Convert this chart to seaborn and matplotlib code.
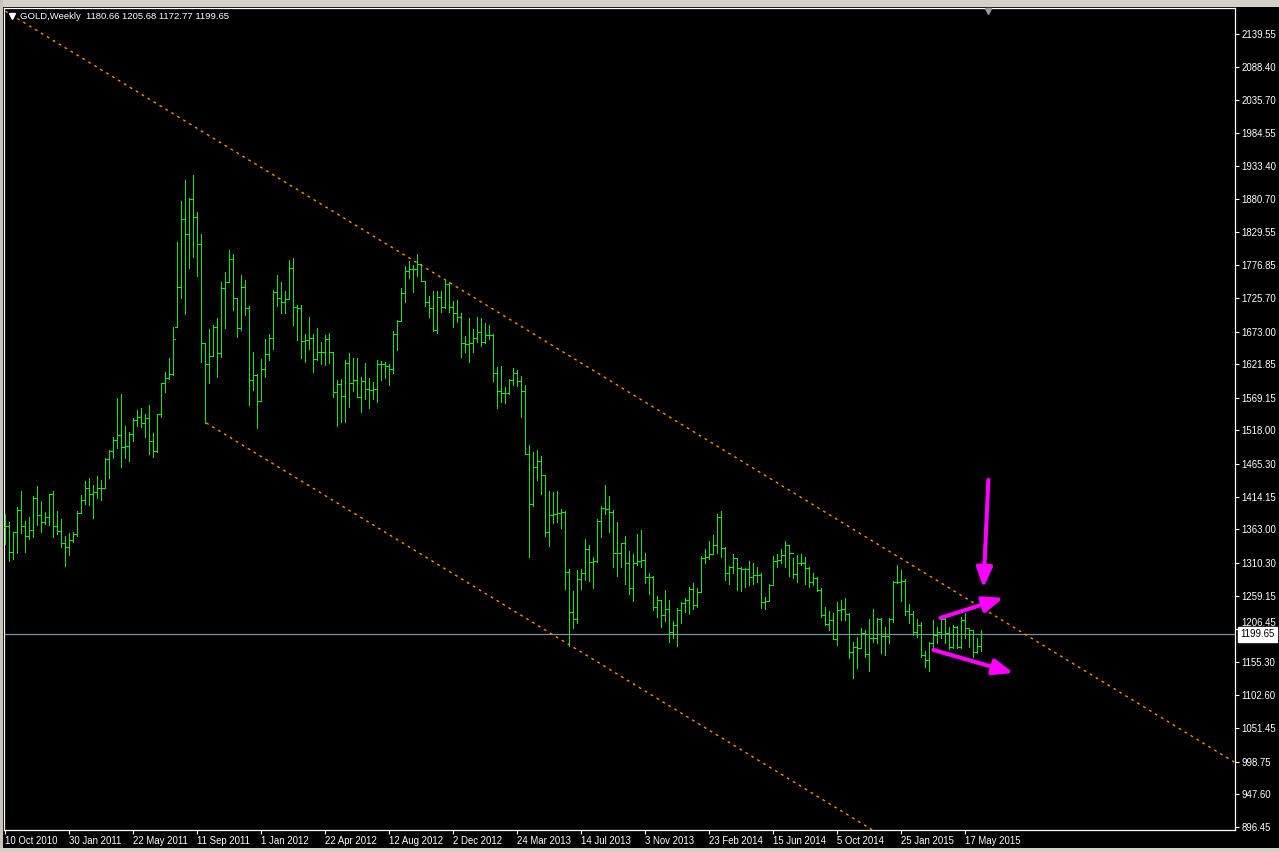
import matplotlib
matplotlib.use("Agg")
import matplotlib.pyplot as plt
from matplotlib.lines import Line2D
from matplotlib.patches import Rectangle
import numpy as np
import pandas as pd
import seaborn as sns

# ---------------- data (weekly GOLD bars, 10 Oct 2010 .. 21 Jun 2015) ----------------
highs = [1387, 1375, 1359.5, 1398.7, 1423.3, 1376.3, 1382.5, 1415.5, 1431.1, 1407.6,
         1390.9, 1418.6, 1423.3, 1392.5, 1379.4, 1353.3, 1357.5, 1359.5, 1392, 1417,
         1439, 1444.2, 1432.7, 1446.8, 1440.5, 1474.5, 1487.6, 1508.5, 1568.6, 1575.3,
         1525.2, 1516.3, 1537.2, 1550.3, 1554, 1543.5, 1558.1, 1513.7, 1543.5, 1592,
         1609.3, 1631.2, 1679.8, 1813, 1877, 1910.8, 1882, 1918.6, 1860, 1826,
         1654.8, 1677.2, 1683.5, 1694, 1751.4, 1766, 1801, 1794.3, 1726.3, 1761.9,
         1754, 1713.3, 1640.7, 1606.2, 1630.2, 1661.6, 1669.4, 1738.4, 1761.9, 1750.4,
         1736.8, 1785.9, 1788, 1714.9, 1714.9, 1668.9, 1696, 1668.9, 1678.3, 1656.3,
         1667.8, 1670.4, 1640.7, 1597.3, 1598.8, 1628.6, 1639.1, 1632.3, 1631.3, 1602.5,
         1623.4, 1599.9, 1594.7, 1628.6, 1627.1, 1625, 1621.8, 1674.1, 1690.8, 1742,
         1776.5, 1783.8, 1777.5, 1794.3, 1778.6, 1752.5, 1729.5, 1736.8, 1736.8, 1736.8,
         1754.6, 1751.4, 1721.1, 1722.7, 1701.8, 1666.8, 1695, 1677.2, 1696.6, 1695,
         1686.1, 1683.5, 1668.9, 1618.2, 1619.3, 1586.9, 1598.9, 1615.6, 1613, 1603.6,
         1589.5, 1495.5, 1485, 1487.6, 1478.2, 1448.4, 1423.9, 1422.3, 1423.4, 1395.1,
         1392, 1300.6, 1266.6, 1299.5, 1300.6, 1348.1, 1338.7, 1320.4, 1379.5, 1400.4,
         1432.2, 1415.5, 1393.6, 1374.8, 1342.4, 1352.8, 1329.3, 1324.6, 1356, 1362.2,
         1326.7, 1294.3, 1290.1, 1258.8, 1251.5, 1268.2, 1252.5, 1219.6, 1240.5, 1248.8,
         1255.6, 1272.4, 1278.6, 1270.8, 1321, 1332.4, 1345, 1354.4, 1387.3, 1392.5,
         1335, 1305.8, 1324.6, 1316.2, 1304.7, 1303, 1314, 1310, 1304.7, 1295.2,
         1256.6, 1277.5, 1321.4, 1324, 1332.3, 1344.9, 1338.6, 1317.7, 1323, 1324,
         1319.3, 1304.7, 1295.2, 1289, 1270.7, 1240.9, 1235.7, 1232.5, 1249.8, 1252.4,
         1255, 1232, 1187.1, 1194.9, 1208, 1205.4, 1222.1, 1237.8, 1223.7, 1224,
         1209.6, 1223.7, 1282.2, 1307.3, 1299.4, 1284.8, 1246.1, 1235.7, 1222.1, 1218,
         1172.5, 1187.1, 1221.1, 1209.6, 1223.7, 1224, 1209.6, 1213.2, 1211, 1226.3,
         1231.5, 1208, 1205.4, 1192.3, 1205.68]

lows = [1340, 1314, 1316.7, 1325.6, 1358, 1328, 1347.5, 1351.7, 1370, 1359.6,
        1371, 1370, 1351.7, 1355.4, 1336, 1306.3, 1323, 1343, 1353.3, 1388.3,
        1403, 1401.4, 1380.5, 1411.8, 1409.2, 1427.5, 1443, 1475.5, 1491.2, 1461.4,
        1475.5, 1470.3, 1502.2, 1524.7, 1524.2, 1508.5, 1480.8, 1477.1, 1484, 1538.8,
        1579, 1598, 1605, 1681, 1726.3, 1701, 1773.4, 1790.6, 1760.8, 1626,
        1530.5, 1593.1, 1634, 1602.5, 1633.9, 1679.3, 1751.4, 1707, 1665.2, 1676,
        1699, 1558, 1581.6, 1521.5, 1564.4, 1602.5, 1628.6, 1645.9, 1713.3, 1702.8,
        1702.8, 1723.7, 1683.5, 1660, 1632.3, 1626, 1645.9, 1610.3, 1628.6, 1621.8,
        1620.8, 1623.4, 1571.2, 1525.7, 1532, 1530.9, 1555.5, 1580.6, 1571.2, 1546.6,
        1567.5, 1552.9, 1567, 1562.3, 1597.3, 1599.9, 1588.9, 1607.7, 1644.3, 1689.8,
        1719, 1756.7, 1734.7, 1760.8, 1752.5, 1713.8, 1696.6, 1674.1, 1670.4, 1703.4,
        1709.6, 1704.4, 1680.9, 1687.7, 1633.9, 1641.7, 1625, 1640.7, 1657.4, 1651.1,
        1654.8, 1661.6, 1595.7, 1553.9, 1563.4, 1560.8, 1575.4, 1589.5, 1588, 1538.8,
        1480.8, 1320.4, 1400, 1440.6, 1418.1, 1353.3, 1337.7, 1372.7, 1375.3, 1364.9,
        1269.2, 1180.4, 1208.1, 1216, 1269.2, 1283.9, 1282.8, 1271.8, 1312.6, 1351.8,
        1387.3, 1359.6, 1303.7, 1290.6, 1304.7, 1277, 1261.4, 1251.5, 1307.4, 1303.7,
        1279.7, 1261.4, 1236.3, 1226.4, 1210.7, 1219.6, 1187.2, 1192.4, 1180.9, 1216,
        1233.2, 1230.5, 1237.9, 1241, 1264.5, 1310, 1316.2, 1326.7, 1326.7, 1319.4,
        1283.9, 1277, 1294.3, 1268.2, 1267, 1273.3, 1276, 1277, 1281, 1240.4,
        1238.3, 1250.8, 1275.9, 1304.7, 1309.9, 1304.7, 1290.5, 1286.4, 1280.1, 1307.3,
        1277.5, 1272.3, 1275.9, 1267, 1226.3, 1213.2, 1205.4, 1191.3, 1181.9, 1221.1,
        1221.1, 1161, 1130.7, 1145.3, 1176.6, 1163.6, 1141.6, 1186, 1185.5, 1169.8,
        1166.2, 1184.5, 1218.4, 1278.5, 1251.4, 1228.9, 1215.8, 1197.5, 1194.9, 1163.6,
        1147.9, 1141.6, 1176.6, 1185.5, 1192.3, 1184.5, 1175.1, 1176.6, 1176.6, 1177,
        1192.3, 1179.3, 1162.5, 1168.8, 1172.77]

closes = [1368, 1327, 1359, 1393, 1369, 1352.8, 1362, 1412.8, 1385, 1375.2,
          1383, 1418.6, 1368.4, 1360.6, 1341.3, 1335.5, 1347, 1356, 1389.3, 1409.2,
          1428.5, 1418, 1422.3, 1428.5, 1427.5, 1473.5, 1486, 1502.7, 1511, 1492.8,
          1494, 1512, 1534.6, 1538.8, 1529.4, 1537.2, 1501.2, 1485.5, 1543.5, 1592,
          1599.9, 1606.7, 1661, 1743.6, 1849.7, 1825.6, 1880.5, 1853.3, 1810, 1654.8,
          1622, 1635.4, 1680, 1640, 1742, 1751.4, 1786.4, 1725.3, 1678.3, 1743.6,
          1710, 1597.3, 1605.1, 1564.4, 1614.5, 1637.5, 1662.6, 1735.8, 1725.3, 1720.1,
          1724.3, 1772.3, 1711.2, 1710.7, 1658.4, 1660, 1662.6, 1629.7, 1640.7, 1640.7,
          1661, 1640.7, 1579, 1590.5, 1572.2, 1623.4, 1593.1, 1597.3, 1571.2, 1595.7,
          1583.2, 1581.6, 1582.7, 1621.8, 1621.8, 1619.8, 1614.5, 1668.9, 1689.8, 1733.1,
          1768.2, 1770.8, 1771.3, 1778.6, 1752.5, 1719, 1710.7, 1675.7, 1727.9, 1712.2,
          1747.2, 1712.2, 1701.8, 1696.6, 1654.8, 1653.2, 1654.8, 1663.6, 1673, 1657.4,
          1667.8, 1667.8, 1608.8, 1580, 1576.5, 1576.5, 1597, 1607.8, 1595.8, 1580.1,
          1480.8, 1403, 1461.5, 1470.4, 1448.4, 1359.6, 1385.7, 1387.3, 1388.4, 1390.4,
          1296.4, 1233.2, 1222.7, 1285.4, 1295.3, 1331.9, 1312, 1313.1, 1375.8, 1396.2,
          1395.1, 1391, 1325.7, 1325.7, 1341.3, 1310, 1270.8, 1310, 1314.2, 1315.2,
          1288, 1289, 1242, 1252.5, 1229.5, 1237.9, 1202.9, 1213.3, 1236.8, 1248.3,
          1252.5, 1269.2, 1244.7, 1265.6, 1317.8, 1319.4, 1324.6, 1338.7, 1383.1, 1333.5,
          1294.3, 1303.7, 1317.8, 1302.1, 1300.5, 1300.5, 1288, 1291.6, 1291.6, 1249.8,
          1251.4, 1275.9, 1314, 1315.1, 1323, 1338.6, 1325.6, 1293.1, 1309.9, 1309.9,
          1302, 1281.1, 1286.4, 1268.1, 1228.9, 1214.8, 1221.1, 1191.3, 1236.7, 1237.8,
          1230.5, 1171.4, 1178.2, 1176.6, 1200.2, 1167.2, 1192.3, 1192.3, 1222.6, 1196,
          1196, 1222.1, 1281.1, 1281.1, 1282.7, 1235.7, 1230.5, 1202.8, 1213.2, 1166.2,
          1158.3, 1184.5, 1197.5, 1201.7, 1222.6, 1200.2, 1179.3, 1209.6, 1179.3, 1221.1,
          1208, 1205.4, 1171.4, 1180.8, 1199.65]

opens = [1366, 1368, 1327, 1359, 1393, 1369, 1352.8, 1362, 1412.8, 1385,
         1375.2, 1383, 1418.6, 1368.4, 1360.6, 1341.3, 1335.5, 1347, 1356, 1389.3,
         1409.2, 1428.5, 1418, 1422.3, 1428.5, 1427.5, 1473.5, 1486, 1502.7, 1511,
         1492.8, 1494, 1512, 1534.6, 1538.8, 1529.4, 1537.2, 1501.2, 1485.5, 1543.5,
         1592, 1599.9, 1606.7, 1681, 1743.6, 1849.7, 1825.6, 1880.5, 1853.3, 1810,
         1654.8, 1622, 1635.4, 1680, 1640, 1742, 1751.4, 1786.4, 1725.3, 1678.3,
         1743.6, 1710, 1597.3, 1605.1, 1564.4, 1614.5, 1637.5, 1662.6, 1735.8, 1725.3,
         1720.1, 1724.3, 1772.3, 1711.2, 1710.7, 1658.4, 1660, 1662.6, 1629.7, 1640.7,
         1640.7, 1661, 1640.7, 1579, 1590.5, 1572.2, 1623.4, 1593.1, 1597.3, 1571.2,
         1595.7, 1583.2, 1581.6, 1582.7, 1621.8, 1621.8, 1619.8, 1614.5, 1668.9, 1689.8,
         1733.1, 1768.2, 1770.8, 1771.3, 1778.6, 1752.5, 1719, 1710.7, 1675.7, 1727.9,
         1712.2, 1747.2, 1712.2, 1701.8, 1696.6, 1654.8, 1653.2, 1654.8, 1663.6, 1673,
         1657.4, 1667.8, 1667.8, 1608.8, 1580, 1576.5, 1576.5, 1597, 1607.8, 1595.8,
         1580.1, 1480.8, 1403, 1461.5, 1470.4, 1448.4, 1359.6, 1385.7, 1387.3, 1388.4,
         1390.4, 1296.4, 1233.2, 1222.7, 1285.4, 1295.3, 1331.9, 1312, 1313.1, 1375.8,
         1396.2, 1395.1, 1391, 1325.7, 1325.7, 1341.3, 1310, 1270.8, 1310, 1314.2,
         1315.2, 1288, 1289, 1242, 1252.5, 1229.5, 1237.9, 1202.9, 1213.3, 1236.8,
         1248.3, 1252.5, 1269.2, 1244.7, 1265.6, 1317.8, 1319.4, 1324.6, 1338.7, 1383.1,
         1333.5, 1294.3, 1303.7, 1317.8, 1302.1, 1300.5, 1300.5, 1288, 1291.6, 1291.6,
         1249.8, 1251.4, 1275.9, 1314, 1315.1, 1323, 1338.6, 1325.6, 1293.1, 1309.9,
         1309.9, 1302, 1281.1, 1286.4, 1268.1, 1228.9, 1214.8, 1221.1, 1191.3, 1236.7,
         1237.8, 1230.5, 1171.4, 1178.2, 1176.6, 1200.2, 1167.2, 1192.3, 1192.3, 1222.6,
         1196, 1196, 1222.1, 1281.1, 1281.1, 1282.7, 1235.7, 1230.5, 1202.8, 1213.2,
         1166.2, 1158.3, 1184.5, 1197.5, 1201.7, 1222.6, 1200.2, 1179.3, 1209.6, 1179.3,
         1221.1, 1208, 1205.4, 1171.4, 1180.66]

date_tick_pos = [0, 16, 32, 48, 64, 80, 96, 112, 128, 144, 160, 176, 192, 208, 224, 240]
date_tick_labels = ["10 Oct 2010", "30 Jan 2011", "22 May 2011", "11 Sep 2011",
                    "1 Jan 2012", "22 Apr 2012", "12 Aug 2012", "2 Dec 2012",
                    "24 Mar 2013", "14 Jul 2013", "3 Nov 2013", "23 Feb 2014",
                    "15 Jun 2014", "5 Oct 2014", "25 Jan 2015", "17 May 2015"]
price_ticks = [2139.55, 2088.40, 2035.70, 1984.55, 1933.40, 1880.70, 1829.55, 1776.85,
               1725.70, 1673.00, 1621.85, 1569.15, 1518.00, 1465.30, 1414.15, 1363.00,
               1310.30, 1259.15, 1206.45, 1155.30, 1102.60, 1051.45, 998.75, 947.60, 896.45]
last_price = 1199.65
title_text = "GOLD,Weekly  1180.66 1205.68 1172.77 1199.65"

# channel (bar index, price)
upper_x = [0, 307.5]
upper_y = [2175.3, 997.1]
lower_x = [50.2, 307.5]
lower_y = [1529.9, 544.2]

# magenta arrows: (start index, start price, end index, end price)
arrow_start_x = [245.75, 233.75, 232.0]
arrow_start_y = [1440.6, 1224.2, 1174.0]
arrow_end_x = [244.5, 249.5, 252.0]
arrow_end_y = [1271.3, 1255.6, 1138.0]

# ---------------- styling ----------------
sns.set_style("dark")
plt.rcParams["font.family"] = ["Liberation Sans", "DejaVu Sans"]

W, H = 1279, 852
fig = plt.figure(figsize=(W / 100, H / 100), dpi=100, facecolor="black")
ax = fig.add_axes([4 / W, 22 / H, 1231 / W, 822 / H])
ax.set_facecolor("black")

GREEN = "#19e619"
ORANGE = "#ff8c00"
MAGENTA = "#ff00ff"
FS = 6.9

df = pd.DataFrame({"i": np.arange(len(closes)), "open": opens, "high": highs,
                   "low": lows, "close": closes})

# OHLC bars (1 px lines)
ax.vlines(df["i"], df["low"], df["high"], colors=GREEN, lw=0.7, antialiased=False, zorder=3)
ax.hlines(df["open"], df["i"] - 0.5, df["i"], colors=GREEN, lw=0.7, antialiased=False, zorder=3)
ax.hlines(df["close"], df["i"], df["i"] + 0.5, colors=GREEN, lw=0.7, antialiased=False, zorder=3)

# channel lines via seaborn
ch_up = pd.DataFrame({"x": upper_x, "y": upper_y})
ch_lo = pd.DataFrame({"x": lower_x, "y": lower_y})
sns.lineplot(data=ch_up, x="x", y="y", ax=ax, color=ORANGE, lw=1.0,
             linestyle=(0, (2, 3)), zorder=2, legend=False)
sns.lineplot(data=ch_lo, x="x", y="y", ax=ax, color=ORANGE, lw=1.0,
             linestyle=(0, (2, 3)), zorder=2, legend=False)

# last price line
ax.axhline(last_price, color="#7d8ea3", lw=0.9, zorder=1)

# arrows
for sx, sy, ex, ey in zip(arrow_start_x, arrow_start_y, arrow_end_x, arrow_end_y):
    ax.annotate("", xy=(ex, ey), xytext=(sx, sy),
                arrowprops=dict(arrowstyle="-|>,head_length=1.0,head_width=0.4",
                                mutation_scale=12, color=MAGENTA, lw=2.9,
                                shrinkA=0, shrinkB=0), zorder=5)

ax.set_xlim(-0.35, 307.4)
ax.set_ylim(891.75, 2180.3)
ax.set_xlabel("")
ax.set_ylabel("")

# axes / ticks
for s in ax.spines.values():
    s.set_color("white")
    s.set_linewidth(0.9)
    s.set_visible(True)
ax.grid(False)

ax.set_xticks(date_tick_pos)
ax.set_xticklabels(date_tick_labels, ha="left")
ax.tick_params(axis="x", colors="white", direction="out", length=3, width=0.8,
               labelsize=FS, pad=1.5, bottom=True)

# the tick label hidden behind the price box is drawn separately, nudged up
hidden_tick = 1206.45
ax.yaxis.tick_right()
ax.set_yticks(price_ticks)
ax.set_yticklabels(["" if v == hidden_tick else f"{v:.2f}" for v in price_ticks])
ax.tick_params(axis="y", colors="white", direction="out", length=3, width=0.8,
               labelsize=FS, pad=1.5, right=True, left=False)
ax.annotate(f"{hidden_tick:.2f}", xy=(1.0, hidden_tick),
            xycoords=("axes fraction", "data"), xytext=(4.6, 4.6),
            textcoords="offset points", ha="left", va="center",
            fontsize=FS, color="white", annotation_clip=False)

# last price label box
ax.annotate(f"{last_price:.2f}", xy=(1.0, last_price),
            xycoords=("axes fraction", "data"), xytext=(4.0, -0.6),
            textcoords="offset points", ha="left", va="center",
            fontsize=FS, color="black", zorder=10, annotation_clip=False,
            bbox=dict(boxstyle="square,pad=0.28", fc="white", ec="white"))

# title
fig.text(20 / W, 1 - 16.5 / H, title_text, color="white", fontsize=6.8,
         ha="left", va="center")
fig.add_artist(Line2D([11.5 / W], [1 - 15.5 / H], marker="v", markersize=4.2,
                      color="white", linestyle="none", transform=fig.transFigure))
# chart shift marker
fig.add_artist(Line2D([988 / W], [1 - 11 / H], marker="v", markersize=5,
                      color="#9a9a9a", linestyle="none", transform=fig.transFigure))

# window frame strips
fig.add_artist(Rectangle((0, 1 - 7 / H), 1, 7 / H, transform=fig.transFigure,
                         fc="#d4d0c8", ec="none", zorder=0))
fig.add_artist(Rectangle((0, 0), 3 / W, 1, transform=fig.transFigure,
                         fc="#c8c4bc", ec="none", zorder=0))
fig.add_artist(Rectangle((0, 0), 1, 4 / H, transform=fig.transFigure,
                         fc="#d4d0c8", ec="none", zorder=0))

fig.savefig("out.png", dpi=100, facecolor="black")
